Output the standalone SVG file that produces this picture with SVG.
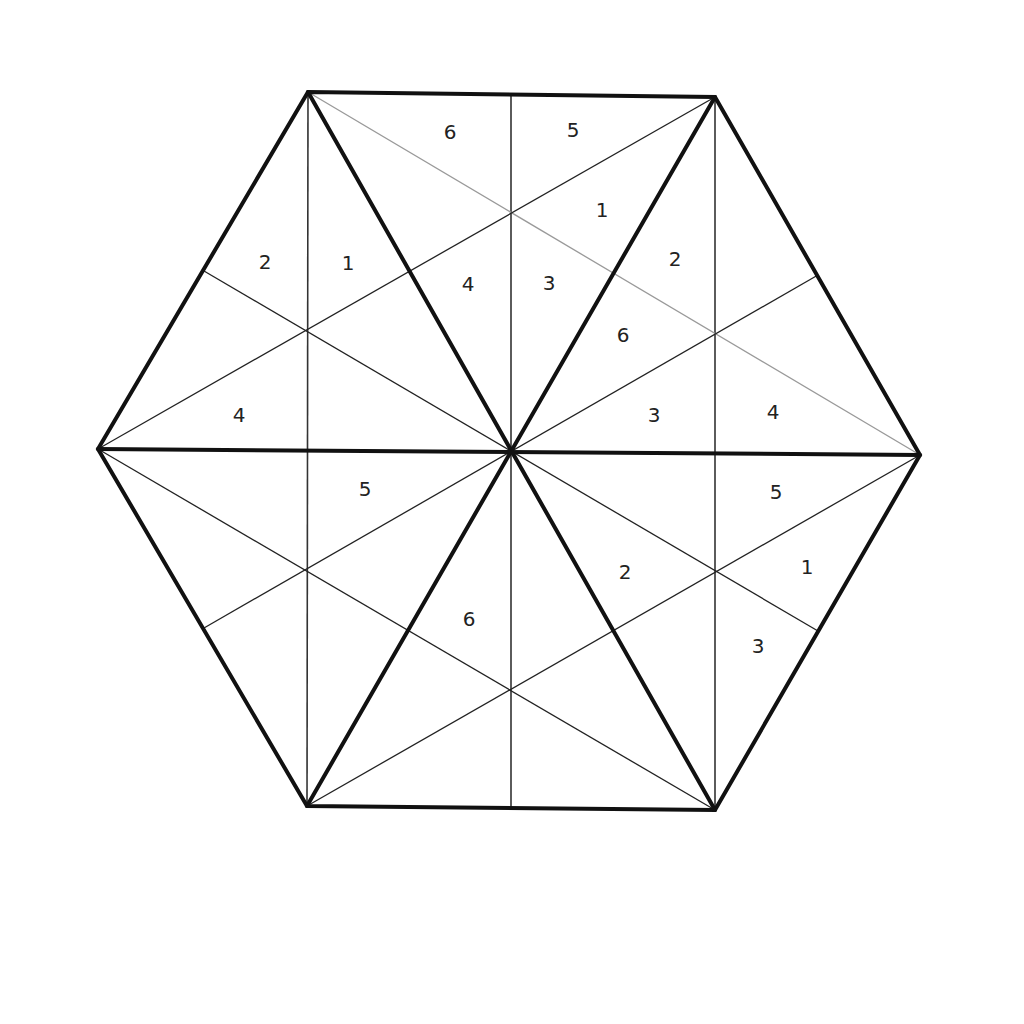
<svg xmlns="http://www.w3.org/2000/svg" width="1024" height="1024" viewBox="0 0 1024 1024">
<style>
.thick{stroke:#111;stroke-width:4;fill:none;stroke-linejoin:miter;stroke-linecap:round}
.thin{stroke:#222;stroke-width:1.3;fill:none}
.vert{stroke:#333;stroke-width:1.6;fill:none}
.gray{stroke:#9a9a9a;stroke-width:1.3;fill:none}
.lbl{font-family:"DejaVu Sans","Noto Sans",sans-serif;font-size:20px;fill:#222;text-anchor:middle}
</style>
<rect width="1024" height="1024" fill="#fff"/>
<g id="connectors">
<line class="vert" x1="308" y1="92" x2="307" y2="806"/>
<line class="vert" x1="511" y1="95" x2="511" y2="808"/>
<line class="vert" x1="715" y1="97" x2="715" y2="810"/>
<line class="gray" x1="308" y1="92" x2="920" y2="455"/>
<line class="thin" x1="715" y1="97" x2="98" y2="449"/>
<line class="thin" x1="98" y1="449" x2="715" y2="810"/>
<line class="thin" x1="920" y1="455" x2="307" y2="806"/>
<line class="thin" x1="204" y1="271" x2="818" y2="631"/>
<line class="thin" x1="204" y1="628" x2="818" y2="275"/>
<line class="thick" x1="308" y1="92" x2="715" y2="810"/>
<line class="thick" x1="715" y1="97" x2="307" y2="806"/>
<line class="thick" x1="98" y1="449" x2="920" y2="455"/>
<polygon class="thick" points="308,92 715,97 920,455 715,810 307,806 98,449"/>
</g>
<g id="labels">
<text class="lbl" x="450" y="139">6</text>
<text class="lbl" x="573" y="137">5</text>
<text class="lbl" x="602" y="217">1</text>
<text class="lbl" x="265" y="269">2</text>
<text class="lbl" x="348" y="270">1</text>
<text class="lbl" x="468" y="291">4</text>
<text class="lbl" x="549" y="290">3</text>
<text class="lbl" x="675" y="266">2</text>
<text class="lbl" x="623" y="342">6</text>
<text class="lbl" x="239" y="422">4</text>
<text class="lbl" x="654" y="422">3</text>
<text class="lbl" x="773" y="419">4</text>
<text class="lbl" x="365" y="496">5</text>
<text class="lbl" x="776" y="499">5</text>
<text class="lbl" x="625" y="579">2</text>
<text class="lbl" x="807" y="574">1</text>
<text class="lbl" x="469" y="626">6</text>
<text class="lbl" x="758" y="653">3</text>
</g>
</svg>
